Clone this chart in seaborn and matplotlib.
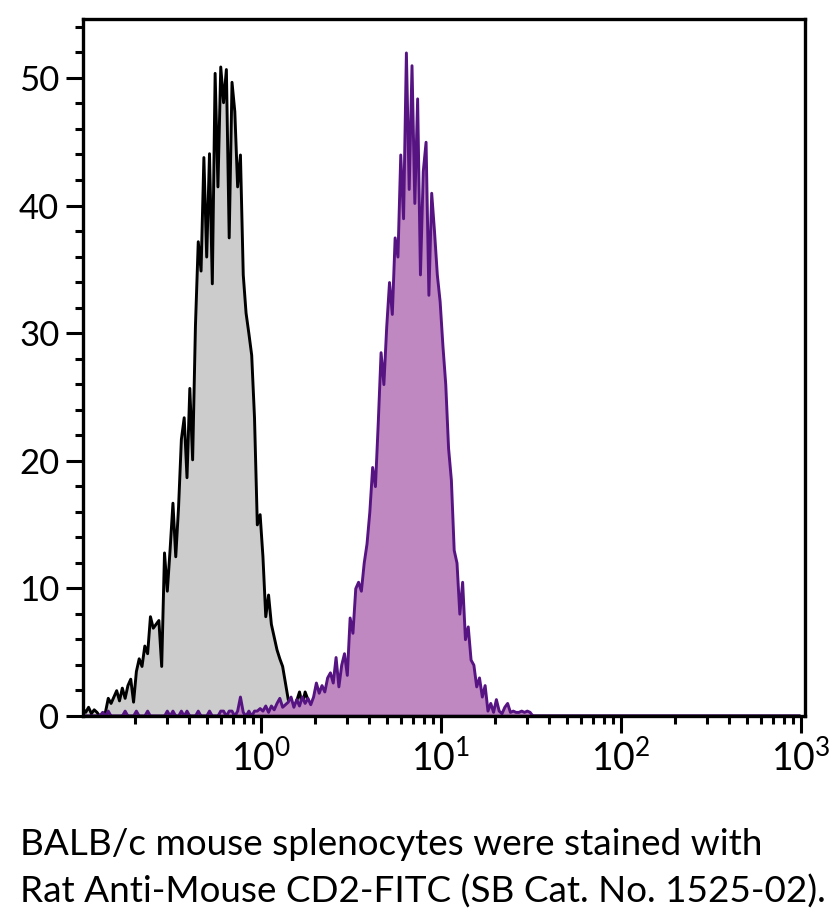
import numpy as np
import pandas as pd
import matplotlib
matplotlib.use("Agg")
import matplotlib.pyplot as plt
import seaborn as sns
from matplotlib.ticker import FixedLocator, LogLocator, NullFormatter, MultipleLocator

# ---------------- data ----------------
# histogram channels: 64 channels per decade, from 10^-1 to 10^3
channels_per_decade = 64
log_min, log_max = -1, 3

# isotype control (grey), counts for channels starting at gray_start
gray_start = 0
gray_counts = [
    0.6, 0.3, 0.7, 0.2, 0.5, 0.3, 0.0, 0.2, 0.3, 1.4,
    1.0, 1.5, 2.0, 1.2, 2.2, 1.4, 2.4, 2.9, 1.1, 3.5,
    4.5, 3.9, 5.5, 4.9, 7.8, 6.9, 7.2, 7.5, 3.9, 12.8,
    9.8, 13.1, 16.7, 12.5, 16.4, 21.7, 23.4, 18.7, 25.7, 20.1,
    30.6, 37.2, 34.9, 43.8, 36.0, 44.1, 33.9, 50.4, 41.5, 50.9,
    48.1, 50.7, 37.5, 49.7, 47.4, 41.5, 44.0, 34.6, 31.6, 30.0,
    28.3, 23.4, 15.0, 15.8, 12.5, 7.8, 9.5, 7.2, 6.2, 5.2,
    4.5, 3.9, 2.6, 1.3, 0.9, 0.4, 1.2, 1.9, 0.9, 1.9,
    1.3, 0.6, 0.0,
]

# CD2-FITC stained (purple)
purple_start = 7
purple_counts = [
    0.3, 0.0, 0.4, 0.0, 0.0, 0.0, 0.0, 0.0, 0.4, 0.0,
    0.0, 0.0, 0.4, 0.0, 0.0, 0.0, 0.4, 0.0, 0.0, 0.0,
    0.0, 0.0, 0.0, 0.4, 0.0, 0.4, 0.0, 0.0, 0.4, 0.0,
    0.4, 0.0, 0.0, 0.0, 0.4, 0.0, 0.0, 0.0, 0.4, 0.0,
    0.0, 0.0, 0.4, 0.4, 0.0, 0.4, 0.4, 0.0, 0.4, 1.5,
    0.3, 0.0, 0.4, 0.0, 0.4, 0.4, 0.6, 0.4, 0.8, 0.3,
    0.8, 0.5, 1.0, 1.4, 0.7, 0.9, 1.1, 1.5, 0.7, 1.3,
    0.8, 1.5, 1.0, 1.4, 0.9, 1.5, 2.6, 1.8, 2.4, 1.9,
    3.0, 3.4, 2.6, 4.6, 2.3, 4.0, 4.9, 3.2, 7.7, 6.5,
    10.0, 10.5, 9.8, 12.0, 13.5, 16.0, 19.5, 18.0, 23.0, 28.5,
    26.0, 30.5, 34.0, 31.5, 37.5, 36.0, 44.0, 39.0, 52.0, 41.3,
    51.0, 40.2, 48.4, 34.6, 42.7, 45.0, 33.0, 41.0, 38.0, 34.6,
    32.5, 29.0, 26.0, 21.0, 18.5, 13.0, 12.0, 8.0, 10.5, 6.0,
    7.0, 4.4, 4.0, 2.3, 3.0, 1.5, 2.4, 0.4, 1.0, 0.3,
    1.3, 0.4, 0.2, 0.7, 1.0, 0.3, 0.4, 0.3, 0.3, 0.4,
    0.3, 0.4, 0.3, 0.0,
]

x_major_ticks = [1, 10, 100, 1000]
x_tick_labels = [r"$\mathregular{10^{0}}$", r"$\mathregular{10^{1}}$",
                 r"$\mathregular{10^{2}}$", r"$\mathregular{10^{3}}$"]
y_major_ticks = [0, 10, 20, 30, 40, 50]
y_tick_labels = ["0", "10", "20", "30", "40", "50"]
caption_lines = ["BALB/c mouse splenocytes were stained with",
                 "Rat Anti-Mouse CD2-FITC (SB Cat. No. 1525-02)."]


def to_frame(start, counts):
    ch = np.arange(start, start + len(counts))
    intensity = 10 ** (log_min + (ch + 0.5) / channels_per_decade)
    return pd.DataFrame({"intensity": intensity, "count": counts})


gray_df = to_frame(gray_start, gray_counts)
purple_df = to_frame(purple_start, purple_counts)

# ---------------- style ----------------
sns.set_style("ticks")
plt.rcParams["font.family"] = ["Lato", "DejaVu Sans"]
plt.rcParams["mathtext.fontset"] = "custom"
plt.rcParams["mathtext.rm"] = "Lato"
plt.rcParams["mathtext.it"] = "Lato:italic"
plt.rcParams["mathtext.bf"] = "Lato:bold"

W, H = 833, 923
fig = plt.figure(figsize=(W / 100, H / 100), dpi=100)
ax = fig.add_axes([83 / W, (H - 715.7) / H, (805 - 83) / W, (715.7 - 19.3) / H])

n_bins = (log_max - log_min) * channels_per_decade
common = dict(x="intensity", weights="count", bins=n_bins, binrange=(log_min, log_max),
              log_scale=True, element="poly", fill=True, ax=ax)
sns.histplot(data=gray_df, facecolor="#cccccc", edgecolor="#000000", linewidth=2.1, **common)
sns.histplot(data=purple_df, facecolor="#c088c0", edgecolor="#561482", linewidth=2.1, **common)

ax.set_xlim(10 ** (-0.989), 10 ** 3.022)
ax.set_ylim(0, 54.6)
ax.set_xlabel("")
ax.set_ylabel("")

ax.xaxis.set_major_locator(FixedLocator(x_major_ticks))
ax.set_xticklabels(x_tick_labels)
ax.xaxis.set_minor_locator(LogLocator(base=10, subs=np.arange(2, 10)))
ax.xaxis.set_minor_formatter(NullFormatter())
ax.yaxis.set_major_locator(FixedLocator(y_major_ticks))
ax.set_yticklabels(y_tick_labels)
ax.yaxis.set_minor_locator(MultipleLocator(2))

for s in ax.spines.values():
    s.set_visible(True)
    s.set_linewidth(2.4)
    s.set_color("black")

ax.tick_params(axis="both", which="major", direction="out", length=12, width=2.2,
               color="black", labelsize=25, labelcolor="black")
ax.tick_params(axis="x", which="major", labelsize=27)
ax.tick_params(axis="both", which="minor", direction="out", length=6, width=2.2, color="black")
ax.tick_params(axis="y", which="major", pad=5)
ax.tick_params(axis="x", which="major", pad=5)
ax.tick_params(top=False, right=False, which="both")

# caption
fs = 28
t1 = fig.text(20 / W, (H - 855) / H, caption_lines[0], fontsize=fs, ha="left", va="baseline", color="black")
t2 = fig.text(20 / W, (H - 903) / H, caption_lines[1], fontsize=fs, ha="left", va="baseline", color="black")
fig.canvas.draw()
r = fig.canvas.get_renderer()
w1 = t1.get_window_extent(r).width
w2 = t2.get_window_extent(r).width
scale = min(797 / w1, 806 / w2)
t1.set_fontsize(fs * scale)
t2.set_fontsize(fs * scale)

fig.savefig("out.png", dpi=100)
